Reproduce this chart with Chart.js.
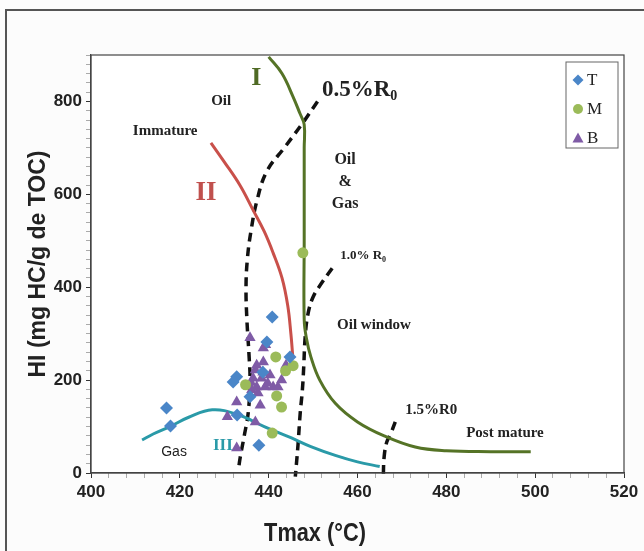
<!DOCTYPE html>
<html>
<head>
<meta charset="utf-8">
<script src="https://cdn.jsdelivr.net/npm/chart.js@4.4.1/dist/chart.umd.min.js"></script>
<style>
  html, body { margin: 0; padding: 0; background: #fcfcfc; }
  #wrap { position: relative; width: 644px; height: 551px; }
</style>
</head>
<body>
<div id="wrap"><canvas id="vanKrevelen" width="644" height="551"></canvas></div>
<script>
// samples : Tmax (°C) and HI (mg HC/g TOC)
const tmaxT = [440.8, 439.6, 444.8, 432.8, 432.0, 435.8, 438.7, 417.0, 417.9, 432.9, 437.8];
const hiT   = [336,   282,   250,   207,   196,   164,   217,   140,   101,   125,   60];

const tmaxM = [447.7, 441.6, 445.5, 443.8, 434.8, 441.8, 442.9, 440.8];
const hiM   = [474,   250,   231,   220,   190,   166,   142,   86];

const tmaxB = [435.8, 438.8, 439.3, 438.8, 437.0, 438.7, 436.5, 438.4, 437.3, 439.2, 436.2, 437.6,
               441.0, 442.1, 442.9, 443.9, 438.1, 432.8, 430.7, 437.0, 432.8, 437.3, 440.3, 436.0, 439.8];
const hiB   = [291,   269,   276,   239,   222,   217,   204,   204,   185,   185,   179,   172,
               185,   185,   200,   232,   146,   153,   121,   110,   54,    232,   211,   195,   193];

// kerogen type curves
const typeI_x  = [440, 443, 445.5, 447, 448, 448, 448, 448, 448.5, 449.5, 451.5, 455, 460, 466, 473, 480, 490, 499];
const typeI_y  = [896, 860, 810,   775, 750, 700, 500, 330, 290,   250,   200,   150, 110, 80,  56,  48,  46,  46];
const typeII_x = [427, 430, 433.5, 436.5, 439, 441, 443, 444.3, 445, 445.4];
const typeII_y = [711, 670, 620,   566,   520, 474, 420, 360,   300, 254];
const typeIII_x = [411.5, 414, 418, 422, 427.3, 433, 439, 445, 449.5, 455, 460, 465];
const typeIII_y = [71,    84,  101, 120, 136,   126, 100, 76,  57,    38,  24,  14];

// vitrinite reflectance iso-lines
const ro05_x = [451, 447.7, 443.5, 439.6, 437.4, 436, 435.2, 434.9, 435.1, 435.6, 435.8, 435.4, 434.5, 433.6, 433.3];
const ro05_y = [800, 754,   700,   650,   588,   520, 460,   400,   330,   250,   200,   130,   80,    34,    15];
const ro10_x = [454.3, 452, 450, 448.8, 448.2, 447.9, 447.6, 447.1, 446.6, 446.0];
const ro10_y = [441,   410, 379, 340,   290,   230,   180,   129,   60,    -8];
const ro15_x = [468.5, 467.5, 466.6, 466.0, 465.8];
const ro15_y = [110,   85,    67,    35,    -12];

const xTicks = [400, 420, 440, 460, 480, 500, 520];
const yTicks = [0, 200, 400, 600, 800];

function pts(xs, ys) { return xs.map((x, i) => ({ x: x, y: ys[i] })); }

const serif = "'Liberation Serif', 'Times New Roman', serif";
const sans = "'Liberation Sans', Arial, sans-serif";

function curve(data, color, dashed) {
    return {
        type: 'line', data: data, borderColor: color, borderWidth: dashed ? 3.5 : 3,
        borderDash: dashed ? [9, 6] : [], pointRadius: 0, tension: 0.4,
        fill: false, clip: 12
    };
}

// text written on the diagram, placed in data units
const notes = [
    { t: 'I', x: 437.2, y: 850, f: 'bold 26px ' + serif, c: '#4f6a24' },
    { t: 'Oil', x: 429.3, y: 801, f: 'bold 15px ' + serif, c: '#222' },
    { t: 'Immature', x: 416.7, y: 736, f: 'bold 15px ' + serif, c: '#222' },
    { t: 'II', x: 425.9, y: 603, f: 'bold 27px ' + serif, c: '#c0504d' },
    { t: 'Oil', x: 457.2, y: 674, f: 'bold 16px ' + serif, c: '#222' },
    { t: '&', x: 457.2, y: 627, f: 'bold 16px ' + serif, c: '#222' },
    { t: 'Gas', x: 457.2, y: 579, f: 'bold 16px ' + serif, c: '#222' },
    { t: 'Oil window', x: 463.7, y: 319, f: 'bold 15px ' + serif, c: '#222' },
    { t: '1.5%R0', x: 476.6, y: 136, f: 'bold 15px ' + serif, c: '#222' },
    { t: 'Post mature', x: 493.2, y: 86, f: 'bold 15px ' + serif, c: '#222' },
    { t: 'III', x: 429.7, y: 58, f: 'bold 17px ' + serif, c: '#2a9aa8' },
    { t: 'Gas', x: 418.7, y: 45, f: '14px ' + sans, c: '#222' }
];
// labels with a subscript zero
const roNotes = [
    { t: '0.5%R', x: 452, y: 825, size: 23 },
    { t: '1.0% R', x: 456.1, y: 467, size: 13 }
];

const annotate = {
    id: 'annotate',
    beforeDraw(chart) {
        const c = chart.ctx, a = chart.chartArea;
        c.save();
        c.fillStyle = '#ffffff';
        c.fillRect(a.left, a.top, a.right - a.left, a.bottom - a.top);
        c.strokeStyle = '#555';
        c.lineWidth = 2;
        c.strokeRect(6, 10, 660, 560);
        c.restore();
    },
    afterDatasetsDraw(chart) {
        const c = chart.ctx, a = chart.chartArea;
        const sx = chart.scales.x, sy = chart.scales.y;
        c.save();
        c.strokeStyle = '#444';
        c.lineWidth = 1.2;
        c.strokeRect(a.left, a.top, a.right - a.left, a.bottom - a.top);
        c.textAlign = 'center';
        c.textBaseline = 'middle';
        notes.forEach(n => {
            c.font = n.f;
            c.fillStyle = n.c;
            c.fillText(n.t, sx.getPixelForValue(n.x), sy.getPixelForValue(n.y));
        });
        c.textAlign = 'left';
        c.fillStyle = '#222';
        roNotes.forEach(n => {
            const px = sx.getPixelForValue(n.x), py = sy.getPixelForValue(n.y);
            c.font = 'bold ' + n.size + 'px ' + serif;
            c.fillText(n.t, px, py);
            const w = c.measureText(n.t).width;
            c.font = 'bold ' + Math.round(n.size * 0.62) + 'px ' + serif;
            c.fillText('0', px + w, py + n.size * 0.3);
        });

        // x axis title, a bit condensed like the original
        c.save();
        c.translate(315, 534);
        c.scale(0.87, 1);
        c.textAlign = 'center';
        c.font = 'bold 25px ' + sans;
        c.fillText('Tmax (°C)', 0, 0);
        c.restore();

        // legend box
        const bx = a.right - 58, by = a.top + 7, bw = 52, bh = 86;
        c.strokeStyle = '#666';
        c.lineWidth = 1;
        c.strokeRect(bx, by, bw, bh);
        const items = [
            { label: 'T', color: '#4a86c8', shape: 'diamond' },
            { label: 'M', color: '#9bbb59', shape: 'circle' },
            { label: 'B', color: '#7f5ba6', shape: 'triangle' }
        ];
        c.font = '17px ' + serif;
        c.textBaseline = 'middle';
        items.forEach((it, i) => {
            const cx = bx + 12, cy = by + 18 + i * 29;
            c.fillStyle = it.color;
            c.beginPath();
            if (it.shape === 'diamond') {
                c.moveTo(cx, cy - 5.5); c.lineTo(cx + 5.5, cy); c.lineTo(cx, cy + 5.5); c.lineTo(cx - 5.5, cy);
            } else if (it.shape === 'circle') {
                c.arc(cx, cy, 5, 0, Math.PI * 2);
            } else {
                c.moveTo(cx, cy - 5.5); c.lineTo(cx + 5.5, cy + 4.5); c.lineTo(cx - 5.5, cy + 4.5);
            }
            c.closePath();
            c.fill();
            c.fillStyle = '#222';
            c.fillText(it.label, cx + 9, cy + 1);
        });
        c.restore();
    }
};

const ctx = document.getElementById('vanKrevelen').getContext('2d');
const chart = new Chart(ctx, {
    type: 'scatter',
    data: {
        datasets: [
            { label: 'T', data: pts(tmaxT, hiT), pointStyle: 'rectRot', pointRadius: 6.5,
              backgroundColor: '#4a86c8', borderColor: '#4a86c8', borderWidth: 0 },
            { label: 'M', data: pts(tmaxM, hiM), pointStyle: 'circle', pointRadius: 5.5,
              backgroundColor: '#9bbb59', borderColor: '#9bbb59', borderWidth: 0 },
            { label: 'B', data: pts(tmaxB, hiB), pointStyle: 'triangle', pointRadius: 6.5,
              backgroundColor: '#7f5ba6', borderColor: '#7f5ba6', borderWidth: 0 },
            curve(pts(typeI_x, typeI_y), '#557326', false),
            curve(pts(typeII_x, typeII_y), '#c9504a', false),
            curve(pts(typeIII_x, typeIII_y), '#2a9aa8', false),
            curve(pts(ro05_x, ro05_y), '#111', true),
            curve(pts(ro10_x, ro10_y), '#111', true),
            curve(pts(ro15_x, ro15_y), '#111', true)
        ]
    },
    options: {
        responsive: false,
        animation: false,
        layout: { padding: { left: 0, top: 55, right: 20, bottom: 0 } },
        plugins: { legend: { display: false }, tooltip: { enabled: false } },
        scales: {
            x: {
                type: 'linear', min: 400, max: 520,
                afterFit(s) { s.height = 78; },
                afterBuildTicks(s) {
                    const t = [];
                    for (let v = 400; v <= 520; v += 4) t.push({ value: v });
                    s.ticks = t;
                },
                ticks: {
                    autoSkip: false, maxRotation: 0, color: '#222', padding: 4,
                    font: { family: sans, size: 17, weight: 'bold' },
                    callback: v => xTicks.includes(v) ? String(v) : ''
                },
                grid: {
                    drawOnChartArea: false, tickLength: 5,
                    tickColor: c => xTicks.includes(c.tick && c.tick.value) ? '#333' : '#aaa'
                },
                border: { color: '#444', width: 1.2 },
                title: { display: false }
            },
            y: {
                type: 'linear', min: 0, max: 900,
                afterFit(s) { s.width = 91; },
                afterBuildTicks(s) {
                    const t = [];
                    for (let v = 0; v <= 900; v += 20) t.push({ value: v });
                    s.ticks = t;
                },
                ticks: {
                    autoSkip: false, color: '#222', padding: 4,
                    font: { family: sans, size: 17, weight: 'bold' },
                    callback: v => yTicks.includes(v) ? String(v) : ''
                },
                grid: {
                    drawOnChartArea: false, tickLength: 5,
                    tickColor: c => yTicks.includes(c.tick && c.tick.value) ? '#333' : '#aaa'
                },
                border: { color: '#444', width: 1.2 },
                title: {
                    display: true, text: 'HI (mg HC/g de TOC)', color: '#222',
                    font: { family: sans, size: 23, weight: 'bold' },
                    padding: { top: 25, bottom: 0 }
                }
            }
        }
    },
    plugins: [annotate]
});
</script>
</body>
</html>
